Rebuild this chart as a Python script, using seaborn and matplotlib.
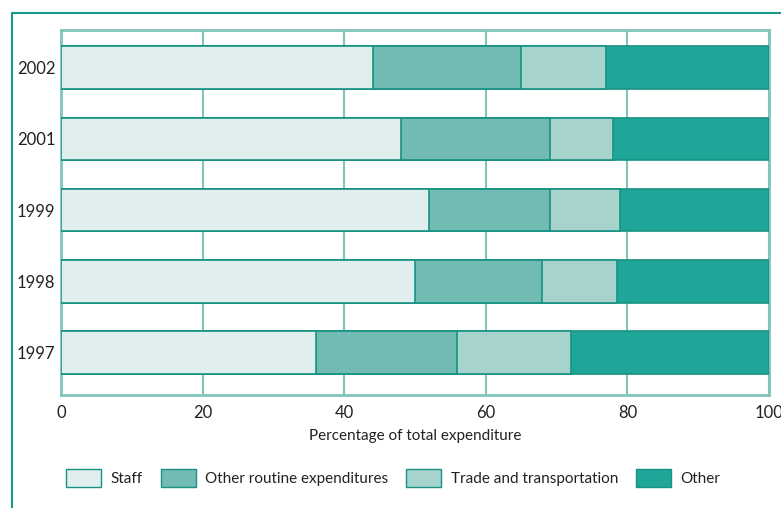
import pandas as pd
import matplotlib.pyplot as plt
import seaborn as sns
from matplotlib.patches import Patch
from matplotlib.lines import Line2D

years = ["2002", "2001", "1999", "1998", "1997"]
categories = ["Staff", "Other routine expenditures", "Trade and transportation", "Other"]
staff = [44, 48, 52, 50, 36]
other_routine = [21, 21, 17, 18, 20]
trade = [12, 9, 10, 10.5, 16]
other = [23, 22, 21, 21.5, 28]

colors = ["#e0eeed", "#72bbb3", "#a7d3cd", "#1fa699"]
edge = "#179283"
grid_col = "#80c4bb"

df = pd.DataFrame({"year": years, "Staff": staff,
                   "Other routine expenditures": other_routine,
                   "Trade and transportation": trade, "Other": other})
# cumulative ends for overlay-style stacking
cum = df[categories].cumsum(axis=1)
cum["year"] = df["year"]

sns.set_style("white")
plt.rcParams["font.family"] = ["Lato", "DejaVu Sans"]

fig = plt.figure(figsize=(7.81, 5.08), dpi=100)
ax = fig.add_axes([61 / 781, 1 - 395 / 508, 708 / 781, 365 / 508])

for cat, col in reversed(list(zip(categories, colors))):
    sns.barplot(data=cum, x=cat, y="year", order=years, orient="h", color=col,
                saturation=1, edgecolor=edge, linewidth=1.2, width=0.6, ax=ax, zorder=3)

ax.set_xlim(0, 100)
ax.set_ylim(4.6, -0.53)
ax.set_xticks([0, 20, 40, 60, 80, 100])
ax.grid(axis="x", color=grid_col, linewidth=1.5, zorder=0)
ax.set_axisbelow(True)
for s in ax.spines.values():
    s.set_color(grid_col)
    s.set_linewidth(2)
ax.tick_params(axis="x", length=4, color=grid_col, width=1.5, labelsize=12, pad=3,
               labelcolor="#222222")
ax.tick_params(axis="y", length=0, labelsize=12, pad=4, labelcolor="#222222")
ax.set_ylabel("")
ax.set_xlabel("Percentage of total expenditure", fontsize=11, color="#222222", labelpad=6)

handles = [Patch(facecolor=c, edgecolor=edge, label=l) for l, c in zip(categories, colors)]
fig.legend(handles=handles, loc="center left", bbox_to_anchor=(52 / 781, 1 - 478 / 508),
           ncol=4, frameon=False, fontsize=11, handlelength=2.3, handleheight=1.4,
           columnspacing=1.2, handletextpad=0.6, labelcolor="#222222")

# outer frame lines
fig.add_artist(Line2D([12 / 781, 12 / 781], [0, 1 - 13 / 508], color="#1a9a88", lw=1.5))
fig.add_artist(Line2D([12 / 781, 1], [1 - 13 / 508, 1 - 13 / 508], color="#1a9a88", lw=1.5))

fig.savefig("out.png", dpi=100)
